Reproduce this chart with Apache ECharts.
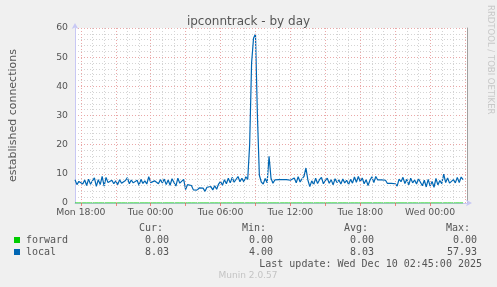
<!DOCTYPE html>
<html>
<head>
<meta charset="utf-8">
<script src="https://cdn.jsdelivr.net/npm/echarts@6/dist/echarts.min.js"></script>
<style>
html,body{margin:0;padding:0;background:#f0f0f0;}
#c{width:497px;height:287px;}
</style>
</head>
<body>
<div id="c"></div>
<script>
// time axis in hours since Mon 00:00; one sample every 10 minutes
const startHour = 17.5;
const stepHour = 1 / 6;
const dayNames = ['Mon', 'Tue', 'Wed'];
const xLabelHours = [18, 24, 30, 36, 42, 48];
const xTickHours = [18, 21, 24, 27, 30, 33, 36, 39, 42, 45, 48];
const yTicks = [0, 10, 20, 30, 40, 50, 60];

const localValues = [
  8.0, 6.3, 7.4, 6.8, 6.5, 7.9, 6.0, 8.2, 6.4, 7.6,
  8.6, 5.7, 8.0, 6.3, 9.1, 5.8, 8.8, 7.0, 6.5, 7.8,
  6.6, 7.6, 6.3, 8.0, 6.8, 6.5, 7.7, 8.7, 6.6, 7.9,
  6.9, 6.4, 7.8, 6.1, 8.1, 6.7, 7.6, 6.5, 9.0, 7.0,
  6.5, 7.6, 7.0, 6.6, 8.0, 6.9, 8.2, 6.3, 7.9, 6.1,
  8.3, 7.0, 5.8, 8.5, 6.8, 6.2, 8.1, 4.6, 6.3, 5.8,
  6.0, 4.5, 4.6, 4.4, 5.2, 5.0, 5.1, 4.0, 5.4, 4.8,
  5.6, 4.5, 5.9, 4.7, 6.5, 7.4, 6.1, 8.0, 6.6, 8.5,
  6.9, 8.8, 7.1, 6.5, 9.1, 7.3, 8.5, 7.2, 9.0, 8.1,
  20.0, 48.0, 56.5, 57.93, 30.0, 9.5, 7.2, 6.5, 8.4, 6.9,
  16.0, 8.5, 6.8, 7.9, 8.0, 8.0, 8.0, 8.0, 8.0, 8.0,
  8.0, 7.8, 7.3, 8.6, 6.9, 9.0, 7.2, 8.3, 9.1, 12.0,
  7.9, 5.6, 7.6, 6.3, 8.5, 6.7, 8.0, 8.8, 6.6, 7.7,
  8.5, 6.8, 8.0, 6.2, 8.3, 7.0, 7.9, 6.5, 8.2, 6.9,
  7.8, 6.3, 8.1, 6.8, 8.9, 7.1, 9.1, 7.3, 8.6, 6.6,
  8.0, 6.0, 7.8, 9.0, 7.0, 9.1, 7.9, 7.9, 7.9, 7.9,
  7.8, 6.7, 6.7, 6.7, 6.7, 6.6, 5.8, 8.2, 7.3, 8.8,
  6.7, 8.1, 6.2, 8.5, 6.9, 7.9, 6.5, 8.3, 7.1, 5.9,
  7.8, 5.5, 8.1, 5.8, 7.4, 5.4, 8.4, 6.2, 7.7, 6.6,
  9.9, 7.0, 8.6, 6.8, 6.6, 8.0, 6.9, 8.8, 7.0, 8.9,
  8.03
];
// forward was read as 0 over the whole period
const forwardValues = localValues.map(() => 0);

const legendRows = [
  { name: 'forward', color: '#00cc00', cur: '0.00', min: '0.00', avg: '0.00', max: '0.00' },
  { name: 'local', color: '#0066b3', cur: '8.03', min: '4.00', avg: '8.03', max: '57.93' }
];
const lastUpdate = 'Last update: Wed Dec 10 02:45:00 2025';

const xMin = startHour;
const xMax = startHour + (localValues.length - 1) * stepHour + 1 / 3;

const localData = localValues.map((v, i) => [startHour + i * stepHour, v]);
const forwardData = forwardValues.map((v, i) => [startHour + i * stepHour, v]);

const vGrid = [];
for (let h = Math.ceil(xMin); h <= Math.floor(xMax); h++) {
  const major = h % 3 === 0;
  vGrid.push({
    xAxis: h,
    lineStyle: { color: major ? '#eaa8a8' : '#d4d4d4', type: [1, 2], width: 1 }
  });
}

function fmtHour(v) {
  const d = Math.floor(v / 24);
  const h = Math.round(v - d * 24);
  return dayNames[d] + ' ' + String(h).padStart(2, '0') + ':00';
}

const mono = '10px "DejaVu Sans Mono"';
const txtColor = '#555555';
const graphics = [];
function addText(text, x, y, align, extra) {
  graphics.push(Object.assign({
    type: 'text', x: x, y: y, silent: true,
    style: { text: text, fill: txtColor, font: mono, textAlign: align, textVerticalAlign: 'middle' }
  }, extra || {}));
}
addText('Cur:', 163, 228, 'right');
addText('Min:', 266, 228, 'right');
addText('Avg:', 368, 228, 'right');
addText('Max:', 470, 228, 'right');
const colX = [169, 273, 374, 477];
legendRows.forEach((r, k) => {
  const y = 240 + k * 12;
  graphics.push({ type: 'rect', silent: true, shape: { x: 14, y: y - 3, width: 6, height: 6 }, style: { fill: r.color } });
  addText(r.name, 26, y, 'left');
  [r.cur, r.min, r.avg, r.max].forEach((v, j) => addText(v, colX[j], y, 'right'));
});
addText(lastUpdate, 482, 264, 'right');
graphics.push({
  type: 'text', x: 248, y: 276, silent: true,
  style: { text: 'Munin 2.0.57', fill: '#c4c4c4', font: '9px "DejaVu Sans"', textAlign: 'center', textVerticalAlign: 'middle' }
});
graphics.push({
  type: 'text', x: 490, y: 5, rotation: -Math.PI / 2, silent: true,
  style: { text: 'RRDTOOL / TOBI OETIKER', fill: '#c8c8c8', font: '8.5px "DejaVu Sans"', textAlign: 'left', textVerticalAlign: 'middle' }
});

const chart = echarts.init(document.getElementById('c'), null, { renderer: 'canvas' });
chart.setOption({
  animation: false,
  backgroundColor: '#f0f0f0',
  textStyle: { fontFamily: 'DejaVu Sans' },
  title: {
    text: 'ipconntrack - by day', left: 'center', top: 11,
    textStyle: { fontSize: 12, fontWeight: 'normal', color: txtColor, fontFamily: 'DejaVu Sans' }
  },
  grid: { left: 67, right: 30, top: 28, bottom: 84, show: true, backgroundColor: '#ffffff', borderWidth: 0 },
  xAxis: {
    type: 'value', min: xMin, max: xMax,
    axisLine: { show: true, lineStyle: { color: '#c8c8f4', width: 1 }, symbol: ['none', 'arrow'], symbolSize: [5, 6], symbolOffset: [0, 5] },
    axisTick: { show: true, customValues: xTickHours, length: 3, lineStyle: { color: '#f08080' } },
    axisLabel: {
      customValues: xLabelHours, color: txtColor, fontSize: 9.3, margin: 5,
      formatter: fmtHour
    },
    splitLine: { show: false }
  },
  yAxis: [{
    type: 'value', min: 0, max: 60, interval: 10,
    name: 'established connections', nameLocation: 'middle', nameGap: 56,
    nameTextStyle: { fontSize: 11, color: txtColor },
    axisLine: { show: true, lineStyle: { color: '#c8c8f4', width: 1 }, symbol: ['none', 'arrow'], symbolSize: [5, 6], symbolOffset: [0, 5] },
    axisTick: { show: false },
    axisLabel: { color: txtColor, fontSize: 9.3, margin: 7 },
    splitLine: { show: true, lineStyle: { color: '#eaa8a8', type: [1, 2] } },
    minorTick: { show: false, splitNumber: 5 },
    minorSplitLine: { show: true, lineStyle: { color: '#d4d4d4', type: [1, 2] } }
  }, {
    type: 'value', min: 0, max: 60, position: 'right',
    axisLine: { show: true, lineStyle: { color: '#a0a0a0', width: 1 } },
    axisTick: { show: false }, axisLabel: { show: false }, splitLine: { show: false }
  }],
  series: [{
    type: 'line', name: 'grid', data: [], silent: true, z: 1,
    markLine: { silent: true, symbol: ['none', 'none'], label: { show: false }, animation: false, data: vGrid }
  }, {
    type: 'line', name: 'forward', data: forwardData, showSymbol: false, z: 3,
    lineStyle: { color: '#00cc00', width: 1 }, itemStyle: { color: '#00cc00' }
  }, {
    type: 'line', name: 'local', data: localData, showSymbol: false, z: 4,
    lineStyle: { color: '#0066b3', width: 1.2 }, itemStyle: { color: '#0066b3' }
  }],
  graphic: graphics
});
</script>
</body>
</html>
